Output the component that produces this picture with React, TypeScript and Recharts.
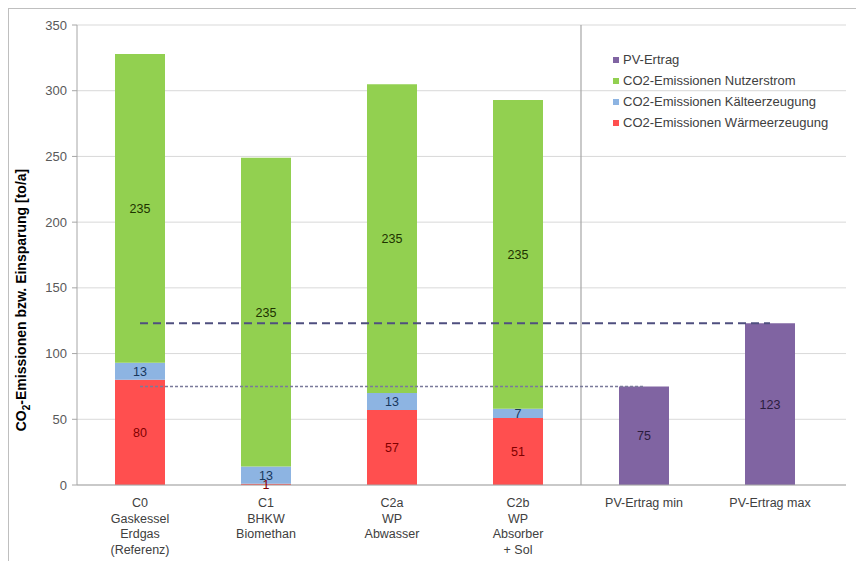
import React from 'react';
import { BarChart, Bar, XAxis, YAxis, CartesianGrid, ReferenceLine, LabelList, Legend } from 'recharts';

const categories = ['C0', 'C1', 'C2a', 'C2b', 'PV-Ertrag min', 'PV-Ertrag max'];
const subLabels = [['Gaskessel', 'Erdgas', '(Referenz)'], ['BHKW', 'Biomethan'], ['WP', 'Abwasser'], ['WP', 'Absorber', '+ Sol'], [], []];
const waerme = [80, 1, 57, 51, null, null];
const kaelte = [13, 13, 13, 7, null, null];
const nutzerstrom = [235, 235, 235, 235, null, null];
const pvErtrag = [null, null, null, null, 75, 123];
const yTicks = [0, 50, 100, 150, 200, 250, 300, 350];
const pvMin = 75;
const pvMax = 123;

const data = categories.map((name, i) => ({
  name,
  waerme: waerme[i],
  kaelte: kaelte[i],
  nutzerstrom: nutzerstrom[i],
  pv: pvErtrag[i],
}));

const legendItems = [
  { label: 'PV-Ertrag', color: '#8064a2' },
  { label: 'CO2-Emissionen Nutzerstrom', color: '#92d050' },
  { label: 'CO2-Emissionen Kälteerzeugung', color: '#8db4e2' },
  { label: 'CO2-Emissionen Wärmeerzeugung', color: '#ff4f4f' },
];

const CategoryTick = (props: any) => {
  const { x, y, payload, index } = props;
  const lines = [payload.value, ...(subLabels[index] ?? [])];
  return (
    <text x={x} y={y} textAnchor="middle" fill="#404040" fontSize={12.5}>
      {lines.map((l: string, i: number) => (
        <tspan key={i} x={x} dy={i === 0 ? 22 : 15.5}>{l}</tspan>
      ))}
    </text>
  );
};

const YTitle = (props: any) => {
  const vb = props.viewBox;
  const cx = vb.x + 17;
  const cy = vb.y + vb.height / 2 + 45;
  return (
    <text x={cx} y={cy} transform={`rotate(-90 ${cx} ${cy})`} textAnchor="middle" fontWeight="bold" fontSize={14} fill="#000">
      CO<tspan fontSize={10} dy={4}>2</tspan><tspan dy={-4}>-Emissionen bzw. Einsparung [to/a]</tspan>
    </text>
  );
};

const LegendBox = () => (
  <div style={{ fontSize: 13, color: '#404040' }}>
    {legendItems.map((it) => (
      <div key={it.label} style={{ display: 'flex', alignItems: 'center', height: 21 }}>
        <span style={{ width: 6, height: 6, background: it.color, marginRight: 4, display: 'inline-block' }} />
        <span>{it.label}</span>
      </div>
    ))}
  </div>
);

export default function App() {
  return (
    <div style={{ width: 855, height: 552, borderTop: '1px solid #bfbfbf', borderLeft: '1px solid #bfbfbf', background: '#fff', fontFamily: '"Liberation Sans", Arial, sans-serif' }}>
      <BarChart width={855} height={552} data={data} margin={{ top: 16, right: 18, bottom: 6, left: 0 }} barSize={50}>
        <CartesianGrid vertical={false} stroke="#d9d9d9" />
        <XAxis dataKey="name" height={70} tick={<CategoryTick />} tickLine={false} tickSize={0} tickMargin={0}
          axisLine={{ stroke: '#a6a6a6' }} padding={{ left: 0, right: 13 }} interval={0} />
        <YAxis width={68} domain={[0, 350]} ticks={yTicks} tick={{ fill: '#595959', fontSize: 13 }}
          axisLine={{ stroke: '#a6a6a6' }} tickLine={{ stroke: '#a6a6a6' }} tickSize={5} tickMargin={5}
          label={<YTitle />} />
        <Legend layout="vertical" align="center" verticalAlign="middle" content={<LegendBox />}
          wrapperStyle={{ left: 604, top: 40, width: 250 }} />
        <ReferenceLine x="PV-Ertrag min" position="start" stroke="#a6a6a6" strokeWidth={1.2} />
        <ReferenceLine segment={[{ x: 'C0', y: pvMax }, { x: 'PV-Ertrag max', y: pvMax }]} stroke="#4f4f7f" strokeWidth={2} strokeDasharray="8 5" />
        <ReferenceLine segment={[{ x: 'C0', y: pvMin }, { x: 'PV-Ertrag min', y: pvMin }]} stroke="#7a7a9a" strokeWidth={1.5} strokeDasharray="3 2" />
        <Bar dataKey="waerme" stackId="a" fill="#ff4f4f" isAnimationActive={false}>
          <LabelList dataKey="waerme" position="center" fill="#7f0000" fontSize={12.5} />
        </Bar>
        <Bar dataKey="kaelte" stackId="a" fill="#8db4e2" isAnimationActive={false}>
          <LabelList dataKey="kaelte" position="center" fill="#17375e" fontSize={12.5} />
        </Bar>
        <Bar dataKey="nutzerstrom" stackId="a" fill="#92d050" isAnimationActive={false}>
          <LabelList dataKey="nutzerstrom" position="center" fill="#1e3300" fontSize={12.5} />
        </Bar>
        <Bar dataKey="pv" stackId="a" fill="#8064a2" isAnimationActive={false}>
          <LabelList dataKey="pv" position="center" fill="#2b1d3f" fontSize={12.5} />
        </Bar>
      </BarChart>
    </div>
  );
}
